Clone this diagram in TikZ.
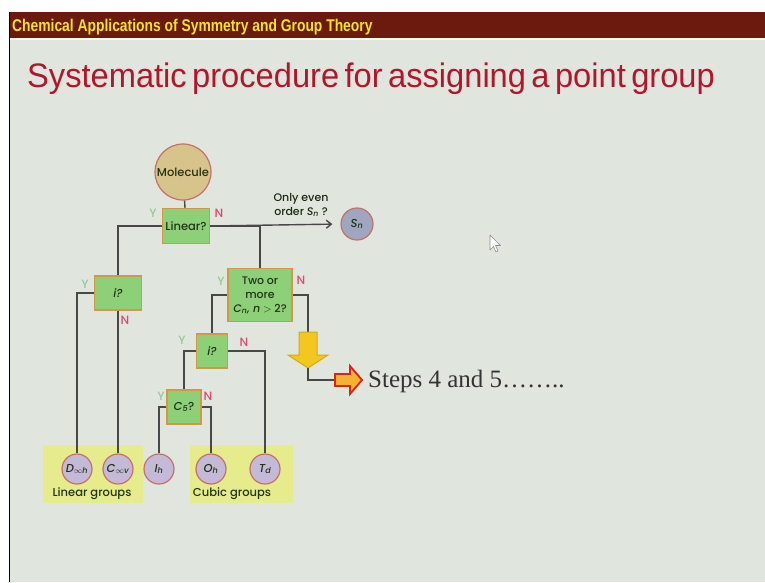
\documentclass[tikz,border=0pt]{standalone}
\usepackage{fontspec}
\usetikzlibrary{arrows.meta}
\setmainfont{Liberation Serif}
\newfontfamily\headfont[FakeStretch=0.815]{Liberation Sans}
\newfontfamily\titlefont[FakeStretch=0.96, WordSpace=0.6]{Liberation Sans}
\newfontfamily\chartfont{Poppins}[UprightFont=* Medium, ItalicFont=* Medium Italic]

\definecolor{slidebg}{RGB}{224,230,221}
\definecolor{headbg}{RGB}{108,26,14}
\definecolor{headtxt}{RGB}{240,228,40}
\definecolor{titletxt}{RGB}{178,22,42}
\definecolor{boxfill}{RGB}{142,208,120}
\definecolor{boxline}{RGB}{212,150,72}
\definecolor{molfill}{RGB}{214,196,138}
\definecolor{ringline}{RGB}{196,112,104}
\definecolor{snfill}{RGB}{160,166,192}
\definecolor{grpfill}{RGB}{196,186,216}
\definecolor{hilite}{RGB}{230,236,140}
\definecolor{wire}{RGB}{72,72,72}
\definecolor{yescol}{RGB}{150,200,150}
\definecolor{nocol}{RGB}{222,72,112}
\definecolor{inktxt}{RGB}{34,52,22}
\definecolor{goldfill}{RGB}{242,200,30}
\definecolor{goldline}{RGB}{214,168,20}
\definecolor{redline}{RGB}{222,34,20}
\definecolor{orangefill}{RGB}{242,178,52}

\tikzset{
  qbox/.style={draw=boxline, fill=boxfill, line width=1.2pt, inner sep=1pt,
    font=\chartfont\fontsize{11.5}{13}\selectfont, text=inktxt, align=center},
  ring/.style={circle, draw=ringline, line width=1.2pt, inner sep=0pt,
    font=\chartfont\fontsize{11.5}{13}\selectfont, text=inktxt},
  grp/.style={ring, fill=grpfill, minimum size=30pt},
  wireline/.style={draw=wire, line width=1.4pt},
  yes/.style={text=yescol, font=\chartfont\fontsize{12}{13}\selectfont},
  no/.style={text=nocol, font=\chartfont\fontsize{12}{13}\selectfont},
  grplabel/.style={text=inktxt, font=\chartfont\fontsize{11.5}{13}\selectfont},
}

\begin{document}
\begin{tikzpicture}[x=1pt, y=-1pt]
  % page and slide frame
  \useasboundingbox (0,0) rectangle (765,582);
  \fill[white] (0,0) rectangle (765,582);
  \fill[slidebg] (9,12) rectangle (765,582);
  \fill[headbg] (9,12) rectangle (765,38);
  \fill[white!70!slidebg] (9,38) rectangle (765,40);
  \draw[black, line width=1.5pt] (9.5,12) -- (9.5,582);

  % header and title
  \node[anchor=base west, inner sep=0, text=headtxt,
        font=\headfont\bfseries\fontsize{17}{20}\selectfont] (head) at (12,31)
        {Chemical Applications of Symmetry and Group Theory};
  \node[anchor=base west, inner sep=0, text=titletxt,
        font=\titlefont\fontsize{34}{40}\selectfont] (title) at (27,87)
        {Systematic procedure for assigning a point group};

  % highlighted families at the bottom
  \fill[hilite] (43,445) rectangle (143,503);
  \fill[hilite] (190,445) rectangle (293,503);
  \node[grplabel] (lingrp) at (92,494) {Linear groups};
  \node[grplabel] (cubgrp) at (232,494) {Cubic groups};

  % decision nodes
  \node[ring, fill=molfill, minimum size=56pt] (mol) at (183,172) {Molecule};
  \node[qbox, minimum width=47pt, minimum height=35pt] (lin) at (186,226) {Linear?};
  \node[ring, fill=snfill, minimum size=32pt] (sn) at (357,224) {\itshape S\textsubscript{\itshape n}};
  \node[qbox, minimum width=47pt, minimum height=34pt] (ia) at (118,293) {\itshape i?};
  \node[qbox, minimum width=64pt, minimum height=53pt, font=\chartfont\fontsize{11}{14}\selectfont]
       (two) at (260,295) {Two or\\more\\{\itshape C\textsubscript{\itshape n}, n} $>$ 2?};
  \node[qbox, minimum width=31pt, minimum height=34pt] (ib) at (212,351) {\itshape i?};
  \node[qbox, minimum width=34pt, minimum height=34pt] (cf) at (184,407) {\itshape C\textsubscript{5}\upshape ?};

  % point groups
  \node[grp] (dinf) at (77,469) {\itshape D\textsubscript{$\infty$\itshape h}};
  \node[grp] (cinf) at (118,469) {\itshape C\textsubscript{$\infty$\itshape v}};
  \node[grp] (ih) at (159,469) {\itshape I\textsubscript{h}};
  \node[grp] (oh) at (211,469) {\itshape O\textsubscript{h}};
  \node[grp] (td) at (265,469) {\itshape T\textsubscript{d}};

  % connectors
  \draw[wireline] (mol) -- (lin);
  \draw[wireline] (lin.west) -| (ia.north);
  \draw[wireline, -{Straight Barb[length=5pt,width=8pt]}, shorten >=8pt] (lin.east) -- (sn.west);
  \draw[wireline] (two.north) |- (lin.east);
  \draw[wireline] (ia.west) -| (dinf.north);
  \draw[wireline] (ia.south) -- (cinf.north);
  \draw[wireline] (two.west) -| (ib.north);
  \draw[wireline] (ib.west) -| (cf.north);
  \draw[wireline] (ib.east) -| (td.north);
  \draw[wireline] (cf.west) -| (ih.north);
  \draw[wireline] (cf.east) -| (oh.north);

  % branch labels
  \node[yes] (y1) at (153,213) {Y};
  \node[no]  (n1) at (219,213) {N};
  \node[yes] (y2) at (85,284) {Y};
  \node[no]  (n2) at (125,320) {N};
  \node[yes] (y3) at (221,281) {Y};
  \node[no]  (n3) at (301,280) {N};
  \node[yes] (y4) at (182,340) {Y};
  \node[no]  (n4) at (244,342) {N};
  \node[yes] (y5) at (161,396) {Y};
  \node[no]  (n5) at (208,396) {N};

  \node[align=center, text=inktxt!80!black, font=\chartfont\fontsize{11}{14}\selectfont]
       (even) at (301,205) {Only even\\order {\itshape S\textsubscript{\itshape n}} ?};

  % route to the later steps
  \coordinate (ytop) at (308,332);
  \coordinate (ytip) at (308,368);
  \coordinate (rtail) at (335,380);
  \draw[wireline] (two.east) -| (ytop);
  \filldraw[fill=goldfill, draw=goldline, line width=1pt]
    (299,332) -- (317,332) -- (317,355) -- (328,355) -- (ytip) -- (288,355) -- (299,355) -- cycle;
  \draw[wireline] (ytip) |- (rtail);
  \filldraw[fill=orangefill, draw=redline, line width=1.8pt, line join=miter]
    (335,374) -- (350,374) -- (350,366) -- (362,380) -- (350,394) -- (350,386) -- (335,386) -- cycle;
  \node[anchor=base west, inner sep=0, text=black!80, font=\fontsize{25}{28}\selectfont]
       (steps) at (368,387) {Steps 4 and 5……..};

  % mouse pointer
  \filldraw[fill=white, draw=black!45, line width=0.6pt, line join=round]
    (490,235) -- (490,250) -- (493.5,246.5) -- (496,252) -- (498,251) -- (495.5,245.5) -- (500.5,245.5) -- cycle;
\end{tikzpicture}
\end{document}
